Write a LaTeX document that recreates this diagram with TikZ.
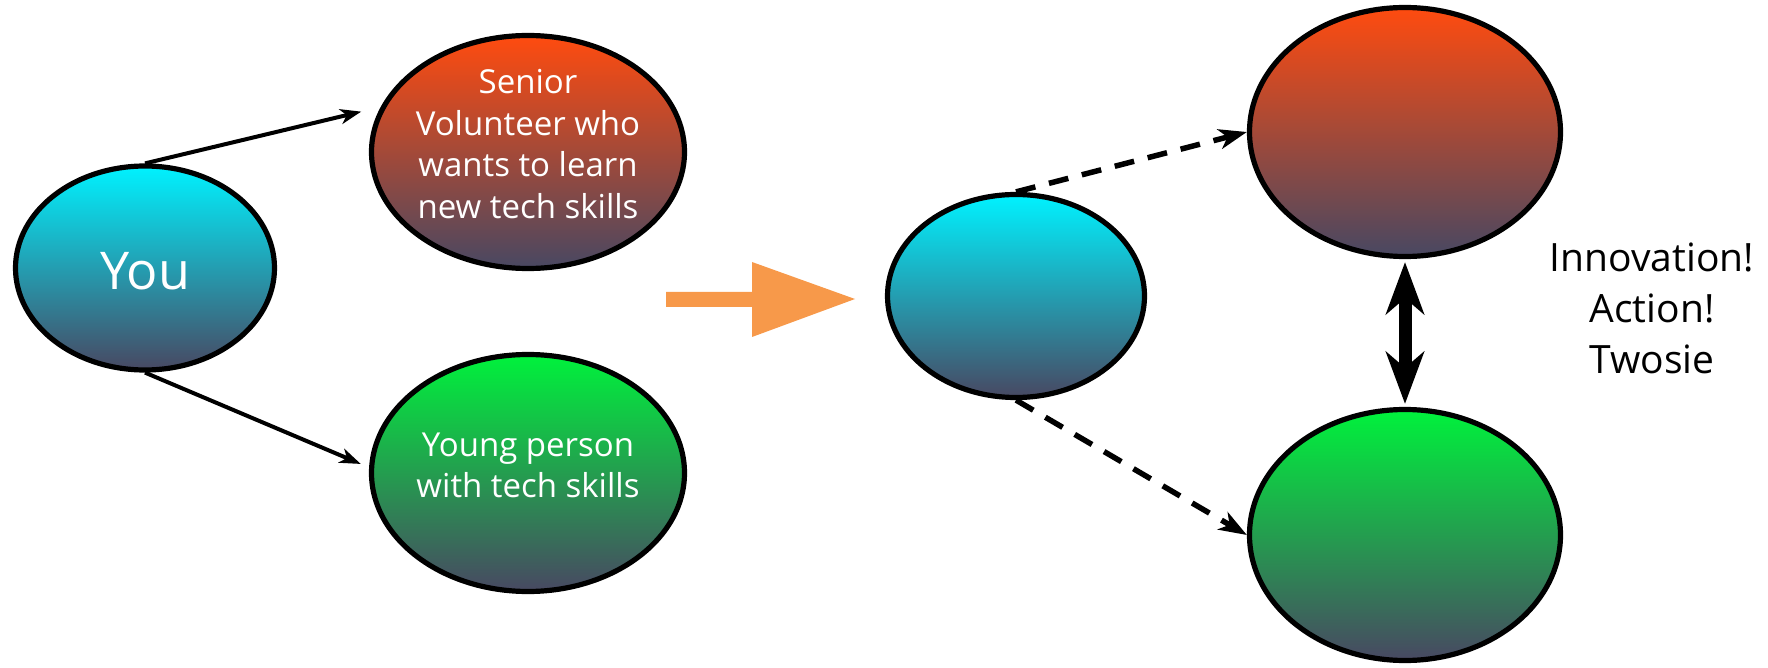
\documentclass[tikz,border=0pt]{standalone}
\usepackage{fontspec}
\setmainfont{Open Sans}
\usetikzlibrary{arrows.meta,shapes.geometric}
\definecolor{cyantop}{RGB}{0,242,255}
\definecolor{redtop}{RGB}{255,75,15}
\definecolor{greentop}{RGB}{0,242,60}
\definecolor{slate}{RGB}{72,72,98}
\definecolor{arroworange}{RGB}{247,153,74}
\tikzset{
    %Define standard arrow tip
    >={Stealth[length=10.5pt,width=7.5pt,inset=3pt]},
    %Define style for bubbles
    bubble/.style={
           ellipse,
           draw=black, line width=2.6pt,
           inner sep=0pt},
    you/.style={bubble, top color=cyantop, bottom color=slate},
    senior/.style={bubble, top color=redtop, bottom color=slate},
    young/.style={bubble, top color=greentop, bottom color=slate},
    %Define style for text in the bubbles
    inside/.style={
           text=white,
           align=center,
           inner sep=0pt,
           font=\fontsize{16.5}{20.8}\selectfont},
    % Define arrow styles
    pil/.style={
           ->,
           line width=2pt},
    dpil/.style={
           -{Stealth[length=14pt,width=10pt,inset=4pt]},
           line width=2.75pt,
           dash pattern=on 10pt off 7pt},
    bpil/.style={
           {Stealth[length=26pt,width=19pt,inset=8pt]}-{Stealth[length=26pt,width=19pt,inset=8pt]},
           line width=6.5pt,
           shorten >=1.5pt,
           shorten <=1.5pt}
}
\begin{document}
\begin{tikzpicture}[x=0.5pt,y=-0.5pt]
\useasboundingbox (0,0) rectangle (1768,668);
% before
\node[you, minimum width=129.5pt, minimum height=102pt] (1) at (145,268) {};
\node[senior, minimum width=156.5pt, minimum height=116.5pt] (2) at (528,152) {};
\node[young, minimum width=156.5pt, minimum height=118.5pt] (3) at (528,473) {};
\node[inside, font=\fontsize{26}{30}\selectfont] (1a) at ([yshift=-1.75pt]1.center) {You};
\node[inside] (2a) at ([yshift=4pt]2.center) {Senior\\Volunteer who\\wants to learn\\new tech skills};
\node[inside] (3a) at ([yshift=3.75pt]3.center) {Young person\\with tech skills};
\draw[pil, shorten >=10pt] (1.north) -- (2.163);
\draw[pil, shorten >=4.5pt] (1.south) -- (3.178);
% big arrow in the middle
\fill[arroworange] (666,292) -- (752,292) -- (752,262) -- (855,299)
      -- (752,337) -- (752,307) -- (666,307) -- cycle;
% after
\node[you, minimum width=128.5pt, minimum height=101.5pt] (4) at (1016,296) {};
\node[senior, minimum width=155.5pt, minimum height=124.5pt] (5) at (1405,132) {};
\node[young, minimum width=155.5pt, minimum height=125.5pt] (6) at (1405,535) {};
\draw[dpil] (4.north) -- (5.west);
\draw[dpil] (4.south) -- (6.west);
\draw[bpil] (5.south) -- (6.north);
\node[align=center, inner sep=0pt, font=\fontsize{19.5}{25.5}\selectfont] (7) at (1652,308) {Innovation!\\Action!\\Twosie};
\end{tikzpicture}
\end{document}
